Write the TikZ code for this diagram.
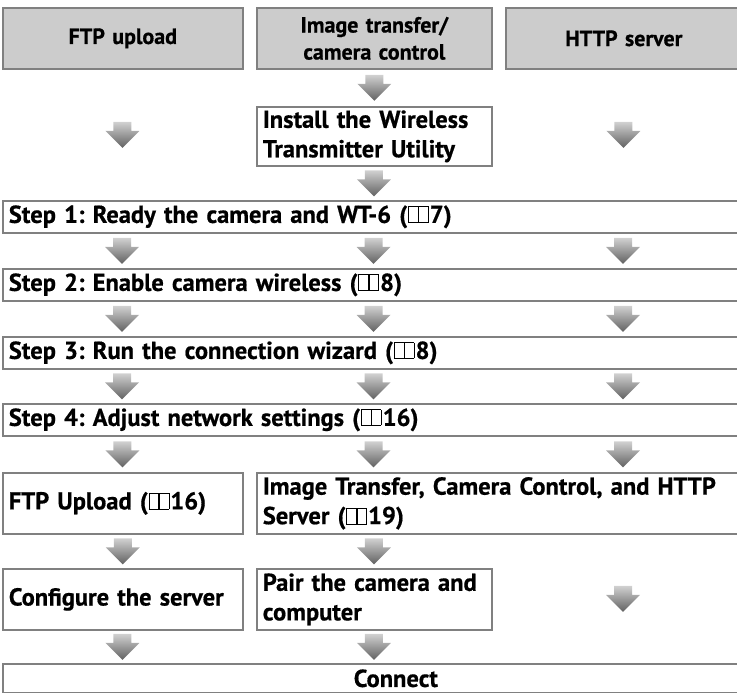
\documentclass[tikz,border=0pt]{standalone}
\usepackage{fontspec}
\setmainfont[WordSpace=0.8,BoldFeatures={FakeBold=0.6}]{PT Sans}
\usepackage{xcolor}
\usepackage{tikz}
\usetikzlibrary{calc}

\definecolor{boxgray}{HTML}{808080}
\definecolor{headfill}{HTML}{CCCCCC}

% small open-book mark used for page references
\newcommand{\bookicon}{{\setlength{\unitlength}{0.01em}\setlength{\fboxrule}{0.055em}\setlength{\fboxsep}{0pt}%
  \begin{picture}(84,66)(0,-2)\put(2,0){\framebox(40,64){}}\put(42,0){\framebox(40,64){}}\end{picture}}}
\newcommand{\manref}[1]{(\kern0.03em\bookicon\kern0.05em#1)}
% shaded block arrow, centred in the gap between two points
\newcommand{\flowarrow}[2]{\path[flow] ($(#1)!.5!(#2)$) ++(-9,-13) -- ++(18,0) -- ++(0,9)
	-- ++(8,0) -- ++(-17,17) -- ++(-17,-17) -- ++(8,0) -- cycle;}

\begin{document}
\frenchspacing
\begin{tikzpicture}[x=1pt,y=-1pt,
	box/.style={draw=boxgray,line width=1.7pt,fill=white,anchor=north west,
		inner xsep=6pt,inner ysep=0pt,align=left,
		font=\fontsize{24.5}{29.5}\selectfont\bfseries},
	head/.style={box,fill=headfill,align=center,minimum height=61pt,
		font=\fontsize{22}{27}\selectfont\bfseries},
	wide/.style={text width=774pt,minimum height=32pt},
	flow/.style={draw=none,top color=black!18,bottom color=black!62}]
	\useasboundingbox (0,0) rectangle (737,693);
	\clip (0,0) rectangle (737,693);
	%
	\coordinate (c1) at (122,0);
	\coordinate (c2) at (373.5,0);
	\coordinate (c3) at (623,0);
	%
	\node[head,text width=228pt] (hdrftp) at (2,7) {FTP upload};
	\node[head,text width=223pt] (hdrimg) at (256,7) {Image transfer/\\camera control};
	\node[head,text width=224pt] (hdrhttp) at (505,7) {HTTP server};
	\node[box,text width=223pt,minimum height=59pt] (install) at (256,106) {Install the Wireless\\Transmitter Utility};
	\node[box,wide] (step1) at (2,200) {Step 1: Ready the camera and WT-6 \manref{7}};
	\node[box,wide] (step2) at (2,268) {Step 2: Enable camera wireless \manref{8}};
	\node[box,wide] (step3) at (2,336) {Step 3: Run the connection wizard \manref{8}};
	\node[box,wide] (step4) at (2,403) {Step 4: Adjust network settings \manref{16}};
	\node[box,text width=228pt,minimum height=61pt] (ftpup) at (2,472) {FTP Upload \manref{16}};
	\node[box,text width=528pt,minimum height=61pt] (imgsrv) at (256,472) {Image Transfer, Camera Control, and HTTP\\Server \manref{19}};
	\node[box,text width=228pt,minimum height=61pt] (config) at (2,568) {Configure the server};
	\node[box,text width=223pt,minimum height=61pt] (pair) at (256,568) {Pair the camera and\\computer};
	\node[box,text width=774pt,minimum height=29pt,align=center] (connect) at (2,663) {Connect};
	%
	\flowarrow{hdrimg.south}{install.north}
	\flowarrow{hdrftp.south}{c1 |- step1.north}
	\flowarrow{hdrhttp.south}{c3 |- step1.north}
	\flowarrow{install.south}{c2 |- step1.north}
	\foreach \a/\b in {step1/step2,step2/step3,step3/step4}
		\foreach \c in {c1,c2,c3}
			{\flowarrow{\c |- \a.south}{\c |- \b.north}}
	\flowarrow{c1 |- step4.south}{ftpup.north}
	\flowarrow{c2 |- step4.south}{c2 |- imgsrv.north}
	\flowarrow{c3 |- step4.south}{c3 |- imgsrv.north}
	\flowarrow{ftpup.south}{config.north}
	\flowarrow{c2 |- imgsrv.south}{pair.north}
	\flowarrow{c3 |- imgsrv.south}{c3 |- connect.north}
	\flowarrow{config.south}{c1 |- connect.north}
	\flowarrow{pair.south}{c2 |- connect.north}
\end{tikzpicture}
\end{document}
